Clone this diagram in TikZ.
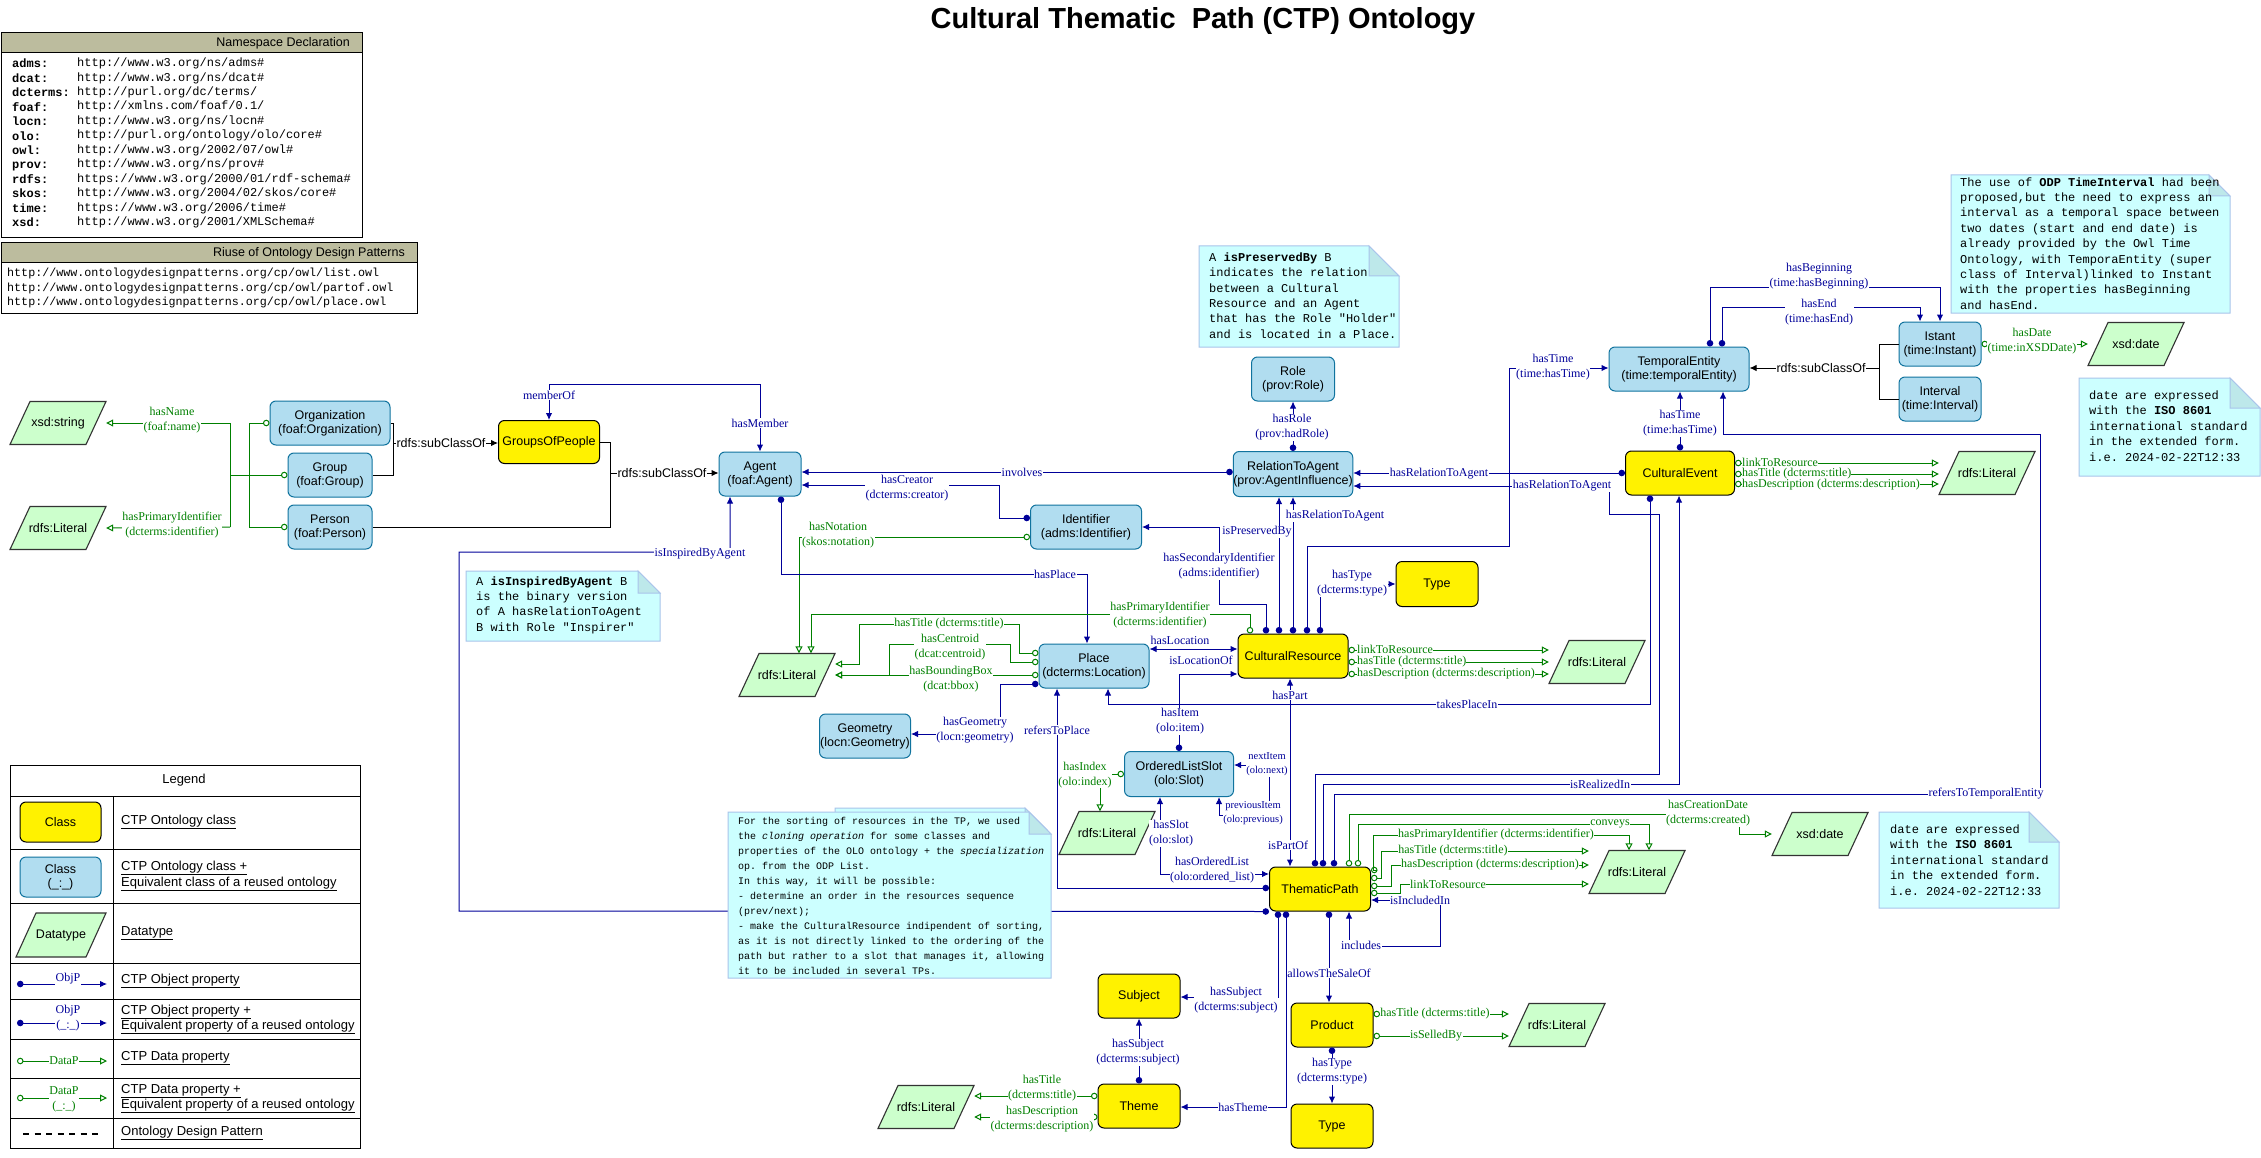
\documentclass[tikz,border=0pt]{standalone}
\usepackage{fontspec}
\setmainfont{Liberation Serif}
\setsansfont{Liberation Sans}
\setmonofont{Liberation Mono}
\usetikzlibrary{arrows.meta}
\definecolor{clsfill}{HTML}{B1DDF0}
\definecolor{clsdraw}{HTML}{10739E}
\definecolor{objc}{HTML}{000099}
\definecolor{datc}{HTML}{008000}
\definecolor{dtfill}{HTML}{CCFFCC}
\definecolor{dtdraw}{HTML}{333333}
\definecolor{notefill}{HTML}{CCFFFF}
\definecolor{notedraw}{HTML}{A9C4EB}
\definecolor{notefold}{HTML}{BDE8EA}
\definecolor{hdrfill}{HTML}{BCBC9E}
\newcommand\ndfont{\sffamily\fontsize{12.5}{14}\selectfont}
\newcommand\hdfont{\sffamily\fontsize{12.5}{14}\selectfont}
\newcommand\lbfont{\rmfamily\fontsize{12}{15}\selectfont}
\newcommand\smlfont{\rmfamily\fontsize{10.5}{14}\selectfont}
\newcommand\mnfont{\ttfamily\fontsize{12}{15.4}\selectfont}
\newcommand\nsfont{\ttfamily\fontsize{12}{14.45}\selectfont}
\newcommand\rufont{\ttfamily\fontsize{11.7}{14.5}\selectfont}
\newcommand\snfont{\ttfamily\fontsize{10}{15}\selectfont}
\newcommand\lgfont{\sffamily\fontsize{13}{15.5}\selectfont}
\newcommand\dtbox[4]{%
  \filldraw[fill=dtfill, draw=dtdraw, line width=1.1pt] (#2-48,#3+21.5) -- (#2-28,#3-21.5) -- (#2+48,#3-21.5) -- (#2+28,#3+21.5) -- cycle;
  \node[dtn] (#1) at (#2,#3) {#4};}
\newcommand\notebox[6]{% name x1 y1 x2 y2 fold
  \filldraw[notebody] (#2,#3) -- (#4-#6,#3) -- (#4,#3+#6) -- (#4,#5) -- (#2,#5) -- cycle;
  \filldraw[notefoldst] (#4-#6,#3) -- (#4-#6,#3+#6) -- (#4,#3+#6) -- cycle;
  \coordinate (#1) at (#2,#3);}
\begin{document}
\begin{tikzpicture}[x=1pt, y=-1pt,
  cls/.style={rectangle, rounded corners=6pt, fill=clsfill, draw=clsdraw, line width=1pt, align=center, font=\ndfont, inner sep=0pt},
  ycls/.style={cls, fill=yellow, draw=black},
  dtn/.style={rectangle, minimum width=96pt, minimum height=43pt, inner sep=0pt, font=\ndfont},
  objl/.style={draw=objc, line width=1pt},
  obj/.style={objl, arrows={Circle[length=6.5pt]-Latex[length=7pt,width=6.5pt]}},
  bobj/.style={objl, arrows={Latex[length=7pt,width=6.5pt]-Latex[length=7pt,width=6.5pt]}},
  datl/.style={draw=datc, line width=1pt},
  dat/.style={datl, arrows={Circle[open,length=6.5pt]-Triangle[open,length=7pt,width=7pt]}},
  subl/.style={draw=black, line width=1pt},
  sub/.style={subl, arrows={-Latex[length=7pt,width=6.5pt]}},
  olbl/.style={font=\lbfont, text=objc, fill=white, inner sep=0.5pt, align=center},
  dlbl/.style={font=\lbfont, text=datc, fill=white, inner sep=0.5pt, align=center},
  slbl/.style={font=\ndfont, text=black, fill=white, inner sep=0.5pt},
  notebody/.style={fill=notefill, draw=notedraw, line width=1pt},
  notefoldst/.style={fill=notefold, draw=notedraw, line width=1pt},
  ntext/.style={align=left, inner sep=0pt, anchor=west},
  lgt/.style={font=\lgfont, anchor=west, inner sep=0pt}]
\useasboundingbox (0,0) rectangle (2261,1158);
\fill[white] (0,0) rectangle (2261,1158);

% ---------- title
\node[font=\sffamily\bfseries\fontsize{29}{34}\selectfont, inner sep=0pt] (title) at (1203,21) {Cultural Thematic\ \ Path (CTP) Ontology};

% ---------- namespace box
\filldraw[fill=white, draw=black, line width=1pt] (1,33) rectangle (362,238);
\filldraw[fill=hdrfill, draw=black, line width=1pt] (1,33) rectangle (362,53);
\node[font=\hdfont, anchor=east, inner sep=0pt] (nshdr) at (350,43.5) {Namespace Declaration};
\node[font=\nsfont, ntext] (nspre) at (12,143) {\textbf{adms:}\\\textbf{dcat:}\\\textbf{dcterms:}\\\textbf{foaf:}\\\textbf{locn:}\\\textbf{olo:}\\\textbf{owl:}\\\textbf{prov:}\\\textbf{rdfs:}\\\textbf{skos:}\\\textbf{time:}\\\textbf{xsd:}};
\node[font=\nsfont, ntext] (nsurl) at (77,143) {http://www.w3.org/ns/adms\#\\http://www.w3.org/ns/dcat\#\\http://purl.org/dc/terms/\\http://xmlns.com/foaf/0.1/\\http://www.w3.org/ns/locn\#\\http://purl.org/ontology/olo/core\#\\http://www.w3.org/2002/07/owl\#\\http://www.w3.org/ns/prov\#\\https://www.w3.org/2000/01/rdf-schema\#\\http://www.w3.org/2004/02/skos/core\#\\https://www.w3.org/2006/time\#\\http://www.w3.org/2001/XMLSchema\#};

% ---------- riuse box
\filldraw[fill=white, draw=black, line width=1pt] (1,243) rectangle (417,313);
\filldraw[fill=hdrfill, draw=black, line width=1pt] (1,243) rectangle (417,263);
\node[font=\hdfont, anchor=east, inner sep=0pt] (ruhdr) at (405,253.5) {Riuse of Ontology Design Patterns};
\node[font=\rufont, ntext] (ruurl) at (7,288) {http://www.ontologydesignpatterns.org/cp/owl/list.owl\\http://www.ontologydesignpatterns.org/cp/owl/partof.owl\\http://www.ontologydesignpatterns.org/cp/owl/place.owl};

% ---------- classes
\node[cls, minimum width=120pt, minimum height=44pt] (org) at (330,423) {Organization\\(foaf:Organization)};
\node[cls, minimum width=84pt, minimum height=44pt] (grp) at (330,475) {Group\\(foaf:Group)};
\node[cls, minimum width=84pt, minimum height=44pt] (per) at (330,527) {Person\\(foaf:Person)};
\node[ycls, minimum width=101pt, minimum height=43pt] (gop) at (549,442) {GroupsOfPeople};
\node[cls, minimum width=82pt, minimum height=44pt] (agent) at (760,474) {Agent\\(foaf:Agent)};
\node[cls, minimum width=111pt, minimum height=44pt] (ident) at (1086,527) {Identifier\\(adms:Identifier)};
\node[cls, minimum width=83pt, minimum height=44pt] (role) at (1293,379) {Role\\(prov:Role)};
\node[cls, minimum width=119pt, minimum height=45pt] (rta) at (1293,474) {RelationToAgent\\(prov:AgentInfluence)};
\node[cls, minimum width=110pt, minimum height=44pt] (place) at (1094,666) {Place\\(dcterms:Location)};
\node[cls, minimum width=91pt, minimum height=44pt] (geom) at (865,736) {Geometry\\(locn:Geometry)};
\node[cls, minimum width=109pt, minimum height=45pt] (ols) at (1179,774) {OrderedListSlot\\(olo:Slot)};
\node[cls, minimum width=140pt, minimum height=44pt] (temp) at (1679,369) {TemporalEntity\\(time:temporalEntity)};
\node[cls, minimum width=82pt, minimum height=44pt] (ist) at (1940,344) {Istant\\(time:Instant)};
\node[cls, minimum width=82pt, minimum height=44pt] (intv) at (1940,399) {Interval\\(time:Interval)};
\node[ycls, minimum width=110pt, minimum height=44pt] (cr) at (1293,656) {CulturalResource};
\node[ycls, minimum width=82pt, minimum height=45pt] (type1) at (1437,584) {Type};
\node[ycls, minimum width=109pt, minimum height=44pt] (ce) at (1680,473) {CulturalEvent};
\node[ycls, minimum width=101pt, minimum height=44pt] (tp) at (1320,889) {ThematicPath};
\node[ycls, minimum width=82pt, minimum height=44pt] (subj) at (1139,996) {Subject};
\node[ycls, minimum width=82pt, minimum height=44pt] (theme) at (1139,1106) {Theme};
\node[ycls, minimum width=82pt, minimum height=44pt] (prod) at (1332,1025) {Product};
\node[ycls, minimum width=82pt, minimum height=44pt] (type2) at (1332,1126) {Type};

% ---------- datatypes
\dtbox{xsdstr}{58}{423}{xsd:string}
\dtbox{lit1}{58}{528}{rdfs:Literal}
\dtbox{lit2}{787}{675}{rdfs:Literal}
\dtbox{lit3}{1637}{872}{rdfs:Literal}
\dtbox{lit4}{926}{1107}{rdfs:Literal}
\dtbox{lit5}{1557}{1025}{rdfs:Literal}
\dtbox{lit6}{1107}{833}{rdfs:Literal}
\dtbox{lit7}{1597}{662}{rdfs:Literal}
\dtbox{lit8}{1987}{473}{rdfs:Literal}
\dtbox{xsddate1}{2136}{344}{xsd:date}
\dtbox{xsddate2}{1820}{834}{xsd:date}

% ---------- agents cluster
\coordinate (j1) at (230,423);
\coordinate (j2) at (230,527);
\coordinate (j3) at (393,443);
\coordinate (j4) at (610,473);
\draw[datl, arrows={Circle[open,length=6.5pt]-Circle[open,length=6.5pt]}] (org.west) -- (249,423) -- (249,527) -- (per.west);
\draw[datl, arrows={Circle[open,length=6.5pt]-}] (grp.west) -- (230,475);
\draw[datl] (j1) -- (j2);
\draw[datl, arrows={-Triangle[open,length=7pt,width=7pt]}] (j1) -- (xsdstr.east) node[dlbl] at (172,420.5) {hasName\\(foaf:name)};
\draw[datl, arrows={-Triangle[open,length=7pt,width=7pt]}] (j2) -- (lit1.east) node[dlbl] at (172,525) {hasPrimaryIdentifier\\(dcterms:identifier)};
\draw[subl] (org.east) -- (393,423) -- (393,475) -- (grp.east);
\draw[sub] (j3) -- (gop.west |- j3) node[slbl] at (441,443) {rdfs:subClassOf};
\draw[subl] (gop.east) -- (610,442) -- (610,527) -- (per.east);
\draw[sub] (j4) -- (agent.west |- j4) node[slbl] at (662,473) {rdfs:subClassOf};
\draw[bobj] (gop.north) -- (549,384) -- (760,384) -- (agent.north);
\node[olbl] (lmo) at (549,395) {memberOf};
\node[olbl] (lhm) at (760,423) {hasMember};
\draw[obj] (tp.south west) -- (459,911) -- (459,552) -- (730,552) -- (agent.south -| 730,0) node[olbl] at (700,554) {isInspiredByAgent};
\draw[obj] (rta.west |- 0,472) -- (agent.east |- 0,472) node[olbl] at (1022,472) {involves};
\draw[obj] (ident.west |- 0,518) -- (999,518) -- (999,485) -- (agent.east |- 0,485) node[olbl] at (907,488.5) {hasCreator\\(dcterms:creator)};
\draw[dat] (ident.west |- 0,537) -- (799,537) -- (lit2.north -| 799,0) node[dlbl] at (838,535.5) {hasNotation\\(skos:notation)};
\draw[obj] (agent.south -| 781,0) -- (781,574) -- (1087,574) -- (place.north -| 1087,0) node[olbl] at (1055,574) {hasPlace};

% ---------- cultural resource
\draw[obj] (cr.north -| 1266,0) -- (1266,604) -- (1219,604) -- (1219,527) -- (ident.east |- 0,527) node[olbl] at (1219,566.5) {hasSecondaryIdentifier\\(adms:identifier)};
\draw[obj] (cr.north -| 1279,0) -- (rta.south -| 1279,0) node[olbl] at (1257,532) {isPreservedBy};
\draw[obj] (cr.north -| 1293,0) -- (rta.south) node[olbl] at (1335,516) {hasRelationToAgent};
\draw[obj] (cr.north -| 1307,0) -- (1307,546) -- (1509,546) -- (1509,368) -- (temp.west |- 0,368) node[olbl] at (1553,367.5) {hasTime\\(time:hasTime)};
\draw[obj] (cr.north -| 1320,0) -- (1320,584) -- (type1.west) node[olbl] at (1352,583.5) {hasType\\(dcterms:type)};
\draw[dat] (cr.north -| 1250,0) -- (1250,614) -- (811,614) -- (lit2.north -| 811,0) node[dlbl] at (1160,615.5) {hasPrimaryIdentifier\\(dcterms:identifier)};
\draw[obj] (rta.north) -- (role.south) node[olbl] at (1292,427.5) {hasRole\\(prov:hadRole)};
\draw[dat] (place.west |- 0,653) -- (1019,653) -- (1019,624) -- (859,624) -- (859,664) -- (lit2.east |- 0,664) node[dlbl] at (949,624) {hasTitle (dcterms:title)};
\draw[dat] (place.west |- 0,662) -- (1010,662) -- (1010,644) -- (889,644) -- (889,675) -- (lit2.east |- 0,675) node[dlbl] at (950,647) {hasCentroid\\(dcat:centroid)};
\draw[dat] (place.west |- 0,675) -- (lit2.east |- 0,675) node[dlbl] at (951,679.5) {hasBoundingBox\\(dcat:bbox)};
\draw[obj] (place.west |- 0,684) -- (1000,684) -- (1000,734) -- (geom.east |- 0,734) node[olbl] at (975,730.5) {hasGeometry\\(locn:geometry)};
\draw[obj] (tp.west |- 0,888) -- (1057,888) -- (place.south -| 1057,0) node[olbl] at (1057,730) {refersToPlace};
\draw[bobj] (place.east |- 0,649) -- (cr.west |- 0,649);
\node[olbl] (lhl) at (1180,640) {hasLocation};
\node[olbl] (lil) at (1201,660) {isLocationOf};
\draw[obj] (ols.north) -- (1179,674) -- (cr.west |- 0,674) node[olbl] at (1180,721.5) {hasItem\\(olo:item)};
\draw[obj] (ce.south -| 1650,0) -- (1650,704) -- (1108,704) -- (place.south -| 1108,0) node[olbl] at (1467,704) {takesPlaceIn};
\draw[bobj] (cr.south -| 1290,0) -- (tp.north -| 1290,0);
\node[olbl] (lhp) at (1290,695) {hasPart};
\node[olbl] (lipo) at (1288,845) {isPartOf};
\draw[dat] (cr.east |- 0,650) -- (lit7.west |- 0,650);
\draw[dat] (cr.east |- 0,662) -- (lit7.west |- 0,662);
\draw[dat] (cr.east |- 0,674) -- (lit7.west |- 0,674);
\node[dlbl, anchor=west, inner sep=0pt] (lcr1) at (1357,649) {linkToResource};
\node[dlbl, anchor=west, inner sep=0pt] (lcr2) at (1357,661.5) {hasTitle (dcterms:title)};
\node[dlbl, anchor=west, inner sep=0pt] (lcr3) at (1357,674) {hasDescription (dcterms:description)};

% ---------- cultural event and time
\draw[obj] (ce.west) -- (rta.east |- ce.west) node[olbl] at (1439,473.5) {hasRelationToAgent};
\draw[obj] (tp.north -| 1315,0) -- (1315,774) -- (1659,774) -- (1659,514) -- (1609,514) -- (1609,486) -- (rta.east |- 0,486) node[olbl] at (1562,486) {hasRelationToAgent};
\draw[obj] (tp.north -| 1323,0) -- (1323,784) -- (1679,784) -- (ce.south -| 1679,0) node[olbl] at (1600,784) {isRealizedIn};
\draw[obj] (tp.north -| 1334,0) -- (1334,794) -- (2040,794) -- (2040,434) -- (1723,434) -- (temp.south -| 1723,0) node[olbl] at (1986,794) {refersToTemporalEntity};
\draw[obj] (ce.north) -- (temp.south -| ce.north) node[olbl] at (1680,423.5) {hasTime\\(time:hasTime)};
\draw[dat] (ce.east |- 0,463) -- (lit8.west |- 0,463);
\draw[dat] (ce.east |- 0,474) -- (lit8.west |- 0,474);
\draw[dat] (ce.east |- 0,484) -- (lit8.west |- 0,484);
\node[dlbl, anchor=west, inner sep=0pt] (lce1) at (1742,462) {linkToResource};
\node[dlbl, anchor=west, inner sep=0pt] (lce2) at (1742,473.5) {hasTitle (dcterms:title)};
\node[dlbl, anchor=west, inner sep=0pt] (lce3) at (1742,484.5) {hasDescription (dcterms:description)};
\draw[subl] (ist.west) -- (1879,344) -- (1879,399) -- (intv.west);
\coordinate (j5) at (1879,368);
\draw[sub] (j5) -- (temp.east |- j5) node[slbl] at (1821,368) {rdfs:subClassOf};
\draw[obj] (temp.north -| 1710,0) -- (1710,287) -- (1940,287) -- (ist.north) node[olbl] at (1819,276) {hasBeginning\\(time:hasBeginning)};
\draw[obj] (temp.north -| 1722,0) -- (1722,307) -- (1920,307) -- (ist.north -| 1920,0) node[olbl] at (1819,312.5) {hasEnd\\(time:hasEnd)};
\draw[dat] (ist.east) -- (xsddate1.west) node[dlbl] at (2032,341.5) {hasDate\\(time:inXSDDate)};

% ---------- thematic path
\draw[dat] (tp.north -| 1349,0) -- (1349,814) -- (1739,814) -- (1739,834) -- (xsddate2.west) node[dlbl] at (1708,813.5) {hasCreationDate\\(dcterms:created)};
\draw[dat] (tp.north -| 1358,0) -- (1358,824) -- (1649,824) -- (lit3.north -| 1649,0) node[dlbl] at (1610,824) {conveys};
\draw[dat] (tp.east |- 0,870) -- (1373,870) -- (1373,835) -- (1629,835) -- (lit3.north -| 1629,0) node[dlbl] at (1496,835) {hasPrimaryIdentifier (dcterms:identifier)};
\draw[dat] (tp.east |- 0,878) -- (1381,878) -- (1381,851) -- (lit3.west |- 0,851) node[dlbl] at (1453,851) {hasTitle (dcterms:title)};
\draw[dat] (tp.east |- 0,886) -- (1391,886) -- (1391,865) -- (lit3.west |- 0,865) node[dlbl] at (1490,865) {hasDescription (dcterms:description)};
\draw[dat] (tp.east |- 0,893) -- (1400,893) -- (1400,884) -- (lit3.west |- 0,884) node[dlbl] at (1448,884) {linkToResource};
\draw[bobj] (tp.south -| 1349,0) -- (1349,946) -- (1440,946) -- (1440,900) -- (tp.east |- 0,900);
\node[olbl] (linc) at (1361,945) {includes};
\node[olbl] (liin) at (1420,900) {isIncludedIn};
\draw[bobj] (ols.south -| 1160,0) -- (1160,874) -- (tp.west |- 0,874);
\node[olbl] (lhs) at (1171,833.5) {hasSlot\\(olo:slot)};
\node[olbl] (lhol) at (1212,870.5) {hasOrderedList\\(olo:ordered\_list)};
\draw[bobj] (ols.east |- 0,765) -- (1269,765) -- (1269,815) -- (1219,815) -- (ols.south -| 1219,0);
\node[olbl, font=\smlfont] (lni) at (1267,764.5) {nextItem\\(olo:next)};
\node[olbl, font=\smlfont] (lpi) at (1253,813.5) {previousItem\\(olo:previous)};
\draw[dat] (ols.west) -- (1100,774) -- (lit6.north -| 1100,0) node[dlbl] at (1085,775) {hasIndex\\(olo:index)};
\draw[obj] (tp.south -| 1278,0) -- (1278,997) -- (subj.east |- 0,997) node[olbl] at (1236,1000.5) {hasSubject\\(dcterms:subject)};
\draw[obj] (tp.south -| 1286,0) -- (1286,1107) -- (theme.east |- 0,1107) node[olbl] at (1243,1107) {hasTheme};
\draw[obj] (tp.south -| 1329,0) -- (prod.north -| 1329,0) node[olbl] at (1329,973) {allowsTheSaleOf};
\draw[obj] (theme.north) -- (subj.south) node[olbl] at (1138,1052.5) {hasSubject\\(dcterms:subject)};
\draw[dat] (theme.west |- 0,1096) -- (lit4.east |- 0,1096) node[dlbl] at (1042,1088.5) {hasTitle\\(dcterms:title)};
\draw[dat] (theme.west |- 0,1117) -- (lit4.east |- 0,1117) node[dlbl] at (1042,1119.5) {hasDescription\\(dcterms:description)};
\draw[dat] (prod.east |- 0,1014) -- (lit5.west |- 0,1014) node[dlbl] at (1435,1014) {hasTitle (dcterms:title)};
\draw[dat] (prod.east |- 0,1036) -- (lit5.west |- 0,1036) node[dlbl] at (1436,1036) {isSelledBy};
\draw[obj] (prod.south) -- (type2.north) node[olbl] at (1332,1071.5) {hasType\\(dcterms:type)};

% ---------- notes
\notebox{npres}{1199}{246}{1399}{347}{30}
\node[font=\mnfont, ntext] (npresT) at (1209,295.5) {A \textbf{isPreservedBy} B\\indicates the relation\\between a Cultural\\Resource and an Agent\\that has the Role "Holder"\\and is located in a Place.};
\notebox{ntime}{1951}{175}{2230}{313}{21}
\node[font=\mnfont, ntext] (ntimeT) at (1960,243.5) {The use of \textbf{ODP TimeInterval} had been\\proposed,but the need to express an\\interval as a temporal space between\\two dates (start and end date) is\\already provided by the Owl Time\\Ontology, with TemporaEntity (super\\class of Interval)linked to Instant\\with the properties hasBeginning\\and hasEnd.};
\notebox{niso1}{2079}{378}{2260}{476}{30}
\node[font=\mnfont, ntext] (niso1T) at (2089,426) {date are expressed\\with the \textbf{ISO 8601}\\international standard\\in the extended form.\\i.e. 2024-02-22T12:33};
\notebox{niso2}{1879}{812}{2059}{908}{30}
\node[font=\mnfont, ntext] (niso2T) at (1890,860) {date are expressed\\with the \textbf{ISO 8601}\\international standard\\in the extended form.\\i.e. 2024-02-22T12:33};
\notebox{ninsp}{466}{571}{660}{641}{22}
\node[font=\mnfont, ntext] (ninspT) at (476,605) {A \textbf{isInspiredByAgent} B\\is the binary version\\of A hasRelationToAgent\\B with Role "Inspirer"};
\notebox{nsortb}{835}{808}{1047}{972}{22}
\notebox{nsort}{728}{812}{1051}{978}{22}
\node[font=\snfont, ntext] (nsortT) at (738,896) {For the sorting of resources in the TP, we used\\the \textit{cloning operation} for some classes and\\properties of the OLO ontology + the \textit{specialization}\\op. from the ODP List.\\In this way, it will be possible:\\- determine an order in the resources sequence\\(prev/next);\\- make the CulturalResource indipendent of sorting,\\as it is not directly linked to the ordering of the\\path but rather to a slot that manages it, allowing\\it to be included in several TPs.};

% ---------- legend
\draw[black, line width=1pt] (10,765) rectangle (360,1148);
\draw[black, line width=1pt] (10,796) -- (360,796);
\foreach \yy in {849,903,963,999,1039,1078,1118} {\draw[black, line width=1pt] (10,\yy) -- (360,\yy);}
\draw[black, line width=1pt] (113,796) -- (113,1148);
\node[font=\lgfont] (lgtitle) at (184,780) {Legend};
\node[ycls, minimum width=81pt, minimum height=40pt] (lgc1) at (60.5,822) {Class};
\node[lgt] (lgt1) at (121,822) {\underline{CTP Ontology class}};
\node[cls, minimum width=81pt, minimum height=40pt] (lgc2) at (60.5,877) {Class\\(\_:\_)};
\node[lgt] (lgt2a) at (121,868) {\underline{CTP Ontology class +}};
\node[lgt] (lgt2b) at (121,884) {\underline{Equivalent class of a reused ontology}};
\filldraw[fill=dtfill, draw=dtdraw, line width=1.1pt] (16,957) -- (36,913) -- (106,913) -- (86,957) -- cycle;
\node[font=\ndfont] (lgc3) at (61,935) {Datatype};
\node[lgt] (lgt3) at (121,933) {\underline{Datatype}};
\coordinate (lg4a) at (17,984); \coordinate (lg4b) at (107,984);
\draw[obj] (lg4a) -- (lg4b) node[olbl] at (68,979) {ObjP};
\node[lgt] (lgt4) at (121,981) {\underline{CTP Object property}};
\coordinate (lg5a) at (17,1023); \coordinate (lg5b) at (107,1023);
\draw[obj] (lg5a) -- (lg5b) node[olbl] at (68,1018.5) {ObjP\\(\_:\_)};
\node[lgt] (lgt5a) at (121,1012) {\underline{CTP Object property +}};
\node[lgt] (lgt5b) at (121,1027) {\underline{Equivalent property of a reused ontology}};
\coordinate (lg6a) at (17,1061); \coordinate (lg6b) at (107,1061);
\draw[dat] (lg6a) -- (lg6b) node[dlbl] at (64,1061) {DataP};
\node[lgt] (lgt6) at (121,1058) {\underline{CTP Data property}};
\coordinate (lg7a) at (17,1098); \coordinate (lg7b) at (107,1098);
\draw[dat] (lg7a) -- (lg7b) node[dlbl] at (64,1099.5) {DataP\\(\_:\_)};
\node[lgt] (lgt7a) at (121,1091) {\underline{CTP Data property +}};
\node[lgt] (lgt7b) at (121,1106) {\underline{Equivalent property of a reused ontology}};
\coordinate (lg8a) at (23,1134); \coordinate (lg8b) at (102,1134);
\draw[black, line width=2pt, dash pattern=on 6pt off 5.5pt] (lg8a) -- (lg8b);
\node[lgt] (lgt8) at (121,1133) {\underline{Ontology Design Pattern}};
\end{tikzpicture}
\end{document}
